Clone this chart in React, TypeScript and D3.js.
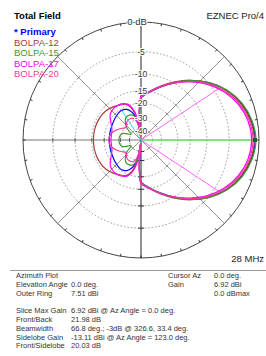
import React from 'react';
import * as d3 from 'd3';

// azimuth angles (deg), pattern is symmetric about 0/180
const angles = [0, 10, 20, 30, 40, 50, 60, 70, 80, 90, 92, 94, 96, 100, 105, 110, 115, 123, 130, 140, 150, 160, 170, 180];

// gain relative to outer ring (dB)
const primary = [-0.59, -0.9, -1.7, -3.0, -4.9, -7.3, -10.0, -12.7, -15.3, -17.8, -21, -28, -60, -32, -26, -23, -21.5, -20.6, -20.8, -21.4, -22.0, -22.3, -22.5, -22.57];
const bolpa12 = [-0.7, -1.0, -1.8, -3.0, -4.8, -7.1, -9.7, -12.4, -15.0, -17.5, -20.5, -27, -60, -30, -23, -20, -18.8, -18.1, -17.2, -16.3, -15.9, -15.7, -15.6, -15.6];
const bolpa15 = [-0.45, -0.8, -1.6, -2.9, -4.8, -7.2, -9.9, -12.6, -15.2, -17.7, -21, -28, -60, -31, -27, -25.5, -25, -25.2, -27, -32, -40, -31, -29, -28.8];
const bolpa17 = [-1.1, -1.4, -2.2, -3.5, -5.3, -7.6, -10.1, -12.6, -15.0, -17.2, -20, -27, -60, -28, -22, -19.5, -18.5, -17.8, -17.8, -18.5, -21, -23, -23.5, -23.5];
const bolpa20 = [-0.9, -1.2, -2.0, -3.3, -5.1, -7.4, -10.0, -12.6, -15.1, -17.5, -20.5, -27, -60, -36, -30, -28, -27.5, -27.5, -28.5, -31, -28, -25, -22.8, -22.3];

const seriesNames = ['BOLPA-12', 'BOLPA-15', 'BOLPA-17', 'BOLPA-20'];
const seriesColors = ['#a33c3c', '#3c9a2c', '#ff00ff', '#f03c96'];

const ringLevels = [-5, -10, -15, -20, -30, -40];
const ringLabels = ['-5', '-10', '-15', '-20', '-30', '-40'];

const maxDb = -0.59; // cursor at 0 deg
const bwAngles = [33.4, 326.6];
const bwDb = -3.59;
const sideAz = 123;
const sideDb = -20.62;

const infoLeft = [
  ['Azimuth Plot', ''],
  ['Elevation Angle', '0.0 deg.'],
  ['Outer Ring', '7.51 dBi'],
  ['', ''],
  ['Slice Max Gain', '6.92 dBi @ Az Angle = 0.0 deg.'],
  ['Front/Back', '21.98 dB'],
  ['Beamwidth', '66.8 deg.; -3dB @ 326.6, 33.4 deg.'],
  ['Sidelobe Gain', '-13.11 dBi @ Az Angle = 123.0 deg.'],
  ['Front/Sidelobe', '20.03 dB'],
];
const infoRight = [
  ['Cursor Az', '0.0 deg.'],
  ['Gain', '6.92 dBi'],
  ['', '0.0 dBmax'],
];

const W = 266;
const H = 356;
const cx = 141;
const cy = 140;
const R = 118;

// ARRL log scale: 0.89 per 2 dB
const rScale = (db: number) => R * Math.pow(0.89, -db / 2);
const azScale = d3.scaleLinear().domain([0, 360]).range([Math.PI / 2, Math.PI / 2 - 2 * Math.PI]);

const toXY = (az: number, db: number): [number, number] => {
  const a = azScale(az);
  const r = rScale(db);
  return [cx + r * Math.sin(a), cy - r * Math.cos(a)];
};

const fullPattern = (vals: number[]) => {
  const pts = angles.map((a, i) => ({ az: a, db: vals[i] }));
  const back = angles
    .slice(1, -1)
    .map((a, i) => ({ az: 360 - a, db: vals[i + 1] }))
    .reverse();
  return pts.concat(back);
};

const line: any = d3
  .lineRadial()
  .angle((d: any) => azScale(d.az))
  .radius((d: any) => rScale(d.db))
  .curve(d3.curveCatmullRomClosed.alpha(0.5));

export default function App() {
  const font = 'Liberation Sans, Arial, sans-serif';
  const grid = '#8a8a8a';
  const all = [bolpa12, bolpa15, bolpa17, bolpa20];
  const ticks10 = d3.range(0, 360, 10);
  const diag = [45, 135, 225, 315];
  const maxPt = toXY(0, maxDb);
  const sidePt = toXY(sideAz, sideDb);

  return (
    <svg width={W} height={H} style={{ position: 'absolute', left: 0, top: 0, background: '#fff' }}>
      <rect width={W} height={H} fill="#fff" />
      {/* dashed rings */}
      {ringLevels.map(l => (
        <circle key={l} cx={cx} cy={cy} r={rScale(l)} fill="none" stroke={grid} strokeWidth={0.9} strokeDasharray="1.5 2" />
      ))}
      {/* diagonal spokes */}
      {diag.map(a => {
        const [x, y] = toXY(a, 0);
        return (
          <g key={a}>
            <line x1={cx} y1={cy} x2={x} y2={y} stroke={grid} strokeWidth={0.9} />
            {ringLevels.map(l => {
              const [px, py] = toXY(a, l);
              const ang = (a * Math.PI) / 180;
              const ux = Math.sin(ang) * 2;
              const uy = Math.cos(ang) * 2;
              return <line key={l} x1={px - ux} y1={py - uy} x2={px + ux} y2={py + uy} stroke={grid} strokeWidth={0.9} />;
            })}
          </g>
        );
      })}
      {/* left horizontal axis */}
      <line x1={cx - R} y1={cy} x2={cx} y2={cy} stroke="#777" strokeWidth={1} />
      {ringLevels.map(l => (
        <line key={l} x1={cx - rScale(l)} y1={cy - 2} x2={cx - rScale(l)} y2={cy + 2} stroke="#555" strokeWidth={0.9} />
      ))}
      {/* outer ring */}
      <circle cx={cx} cy={cy} r={R} fill="none" stroke="#444" strokeWidth={1} />
      {ticks10.map(a => {
        const [x1, y1] = toXY(a, 0);
        const ang = azScale(a);
        const x2 = cx + (R - 2.5) * Math.sin(ang);
        const y2 = cy - (R - 2.5) * Math.cos(ang);
        return <line key={a} x1={x1} y1={y1} x2={x2} y2={y2} stroke="#333" strokeWidth={1} />;
      })}
      {/* vertical axis */}
      <line x1={cx} y1={cy - R} x2={cx} y2={cy + R} stroke="#222" strokeWidth={1} />
      {ringLevels.map(l => (
        <g key={l}>
          <line x1={cx - 3} y1={cy - rScale(l)} x2={cx + 3} y2={cy - rScale(l)} stroke="#222" strokeWidth={0.9} />
          <line x1={cx - 3} y1={cy + rScale(l)} x2={cx + 3} y2={cy + rScale(l)} stroke="#222" strokeWidth={0.9} />
        </g>
      ))}
      {/* cursor line */}
      <line x1={cx} y1={cy} x2={maxPt[0]} y2={maxPt[1]} stroke="#55dd55" strokeWidth={1.6} />
      {/* beamwidth lines */}
      {bwAngles.map(a => {
        const [x, y] = toXY(a, bwDb);
        return <line key={a} x1={cx} y1={cy} x2={x} y2={y} stroke="#ff66ff" strokeWidth={1} />;
      })}
      {/* sidelobe line */}
      <line x1={cx} y1={cy} x2={sidePt[0]} y2={sidePt[1]} stroke="#33dddd" strokeWidth={1} />
      {/* patterns */}
      <g transform={`translate(${cx},${cy})`} fill="none" strokeWidth={1.2}>
        <path d={line(fullPattern(primary))} stroke="#0000ff" />
        {all.map((s, i) => (
          <path key={i} d={line(fullPattern(s))} stroke={seriesColors[i]} />
        ))}
      </g>
      <rect x={maxPt[0] - 2} y={maxPt[1] - 2} width={4} height={4} fill="#116611" />
      {/* ring labels */}
      <g fontFamily={font} fontSize={8.5} fill="#333" textAnchor="middle" stroke="#fff" strokeWidth={2} paintOrder="stroke">
        <text x={cx - 4} y={cy - R + 3} fontSize={9.5}>0 dB</text>
        {ringLevels.map((l, i) => (
          <text key={l} x={cx} y={cy - rScale(l) + (l === -40 ? 5 : l === -30 ? 2 : 3)}>{ringLabels[i]}</text>
        ))}
      </g>
      {/* titles and legend */}
      <g fontFamily={font} fontSize={9.5}>
        <text x={14} y={19} fontWeight="bold" fill="#000">Total Field</text>
        <text x={14} y={35} fontWeight="bold" fill="#0000ff">* Primary</text>
        {seriesNames.map((n, i) => (
          <text key={n} x={14} y={46 + i * 10.3} fill={seriesColors[i]}>{n}</text>
        ))}
        <text x={264} y={19} textAnchor="end" fill="#222">EZNEC Pro/4</text>
        <text x={264} y={262} textAnchor="end" fill="#222">28 MHz</text>
      </g>
      {/* info block */}
      <line x1={10} y1={270.5} x2={W} y2={270.5} stroke="#999" strokeWidth={1} />
      <g fontFamily={font} fontSize={7.5} fill="#333">
        {infoLeft.map((r, i) => (
          <g key={i}>
            <text x={16} y={278 + i * 8.8}>{r[0]}</text>
            <text x={71} y={278 + i * 8.8}>{r[1]}</text>
          </g>
        ))}
        {infoRight.map((r, i) => (
          <g key={i}>
            <text x={168} y={278 + i * 8.8}>{r[0]}</text>
            <text x={214} y={278 + i * 8.8}>{r[1]}</text>
          </g>
        ))}
      </g>
    </svg>
  );
}
